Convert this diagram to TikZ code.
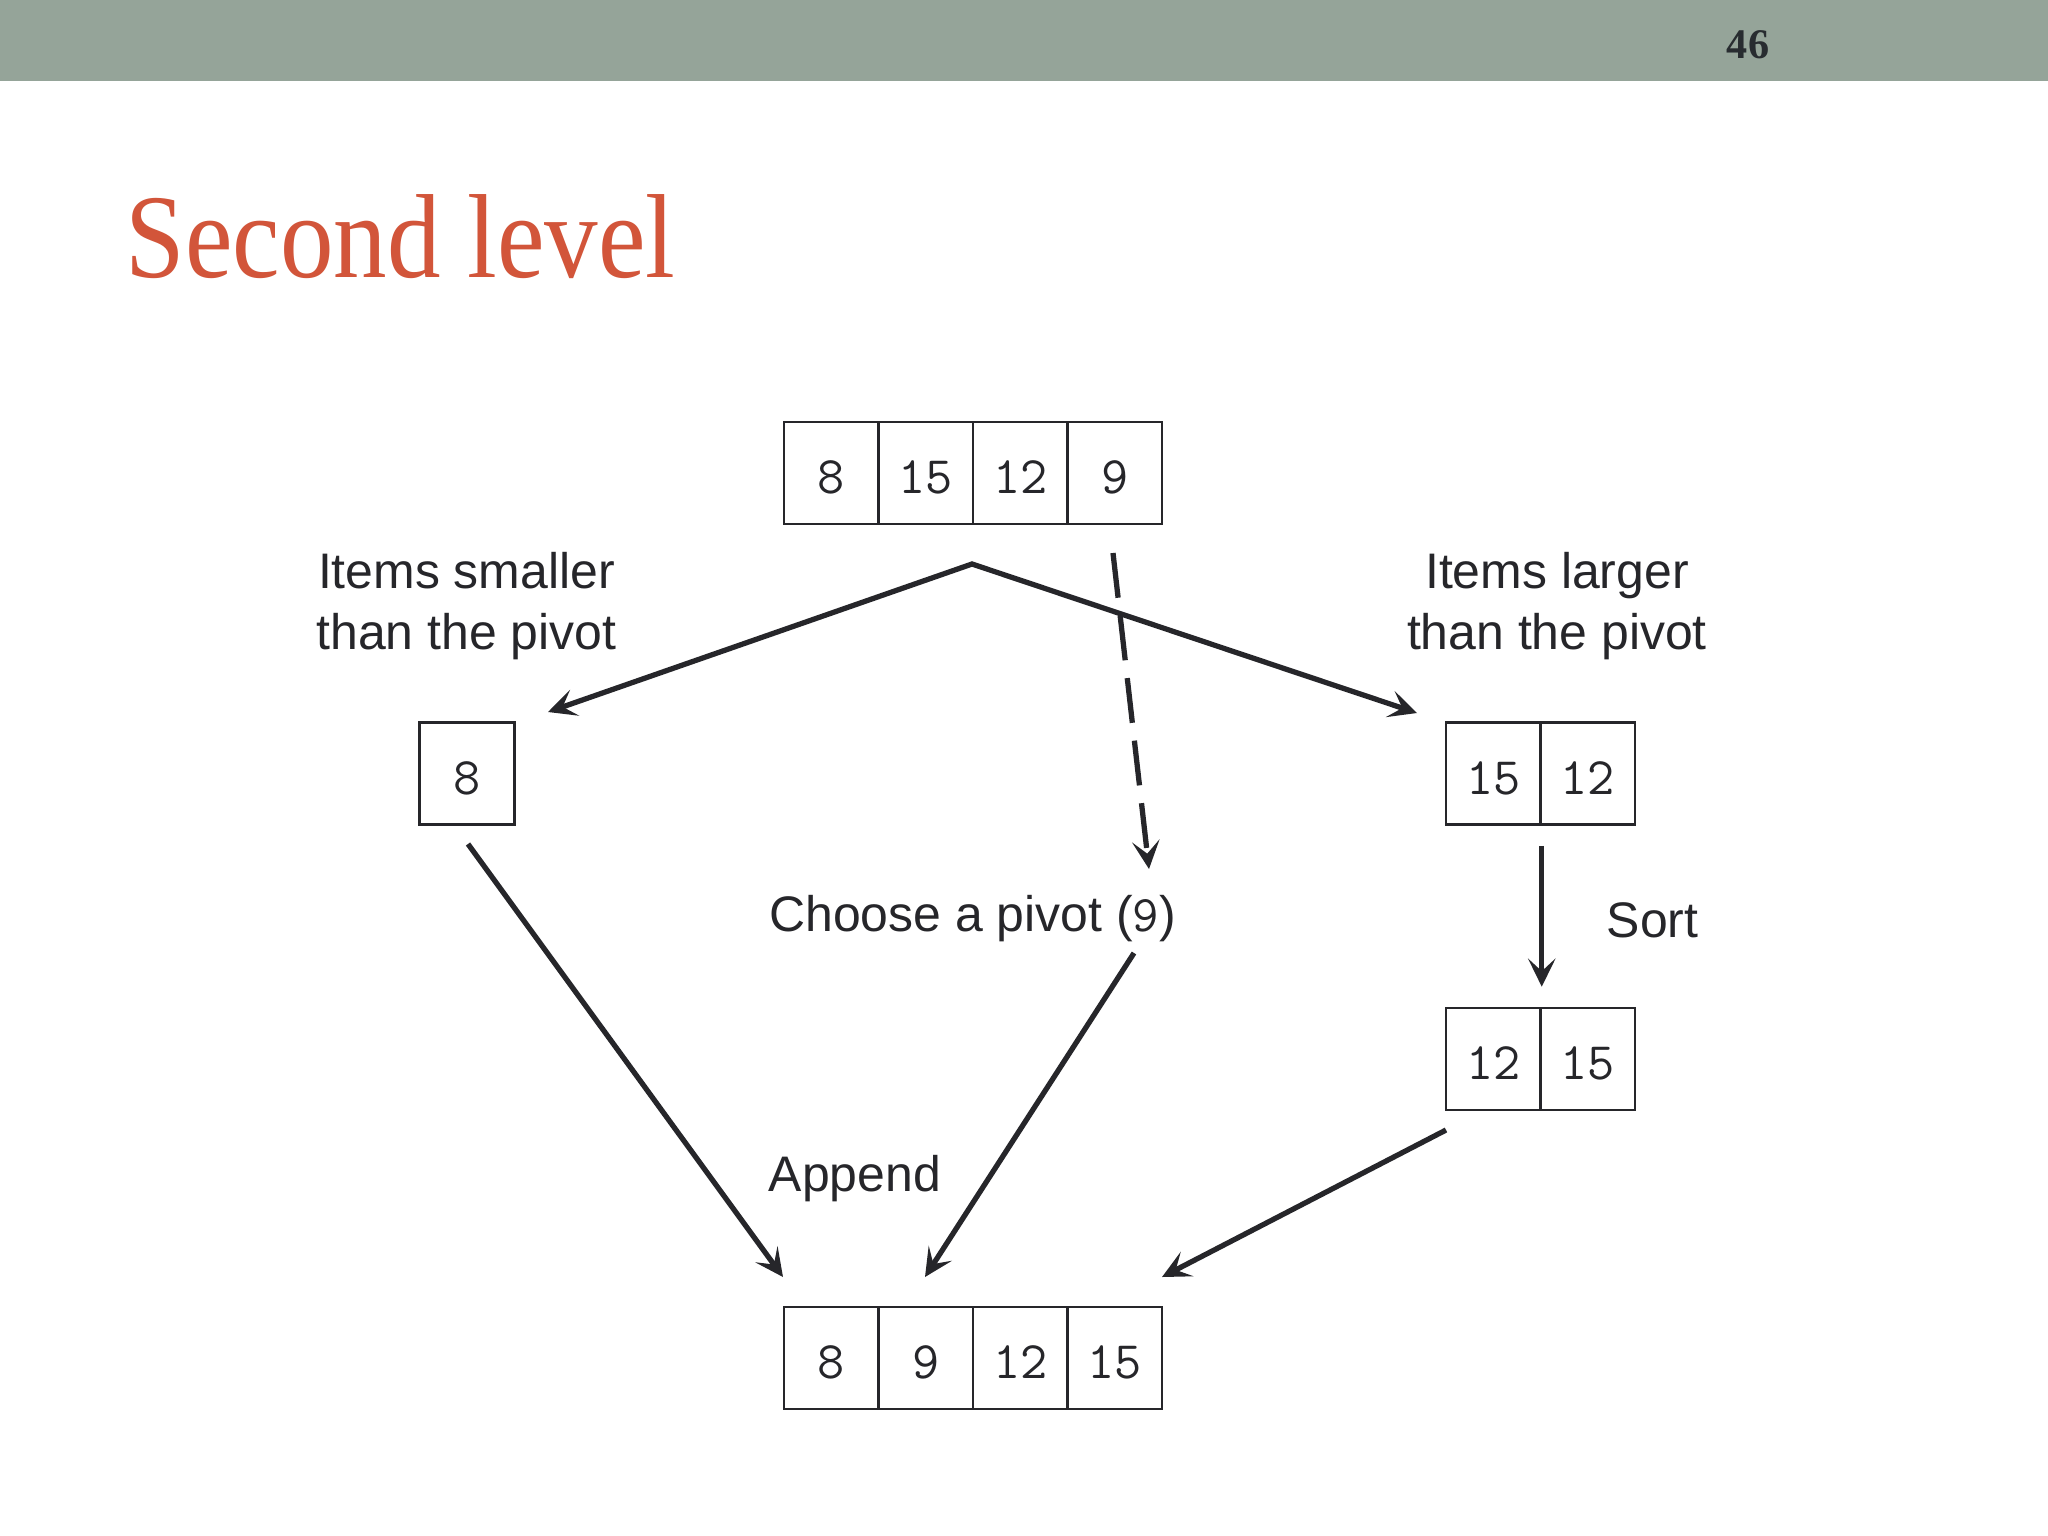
\documentclass[tikz,border=0pt]{standalone}
\usepackage{fontspec}
\setmainfont{Liberation Sans}
\newfontfamily\titlefont{Liberation Serif}
\usetikzlibrary{arrows.meta}
\definecolor{barcol}{RGB}{149,164,153}
\definecolor{titlecol}{RGB}{210,85,58}
\definecolor{ink}{RGB}{38,38,42}
\definecolor{numcol}{RGB}{40,44,48}
\newcommand{\cellfont}{\ttfamily\fontsize{15}{18}\selectfont\addfontfeatures{LetterSpace=6}}
\begin{document}
\begin{tikzpicture}[x=0.01cm,y=-0.01cm,
  cell/.style={draw=ink, line width=0.7pt, minimum width=0.945cm, minimum height=1.02cm,
    inner sep=0pt, font=\cellfont, text=ink,
    text height=11.9pt, text depth=0pt},
  lbl/.style={font=\fontsize{14.2}{17.35}\selectfont, text=ink, inner sep=0pt, align=center},
  tip/.tip={Stealth[length=8pt,width=7.8pt,inset=3.6pt]},
  conn/.style={draw=ink, line width=1.5pt, -tip, line join=miter},
]
\fill[white] (0,0) rectangle (2048,1536);
\useasboundingbox (0,0) rectangle (2048,1536);
\fill[barcol] (0,0) rectangle (2048,81);
\node[anchor=base, font=\titlefont\bfseries\fontsize{12}{14}\selectfont, text=numcol, inner sep=0pt] (pg) at (1748,58) {46};
\node[anchor=base west, font=\titlefont\fontsize{34}{40}\selectfont, text=titlecol, inner sep=0pt] (title) at (125,277) {\scalebox{0.895}[1]{Second level}};

% top array
\node[cell] (a1) at (831.25,473) {8};
\node[cell] (a2) at (925.75,473) {15};
\node[cell] (a3) at (1020.25,473) {12};
\node[cell] (a4) at (1114.75,473) {9};

% smaller
\node[cell] (b1) at (467,773.5) {8};
% larger
\node[cell] (r1) at (1493.25,773.5) {15};
\node[cell] (r2) at (1587.75,773.5) {12};
% sorted
\node[cell] (s1) at (1493.25,1059) {12};
\node[cell] (s2) at (1587.75,1059) {15};
% result
\node[cell] (c1) at (831.25,1358) {8};
\node[cell] (c2) at (925.75,1358) {9};
\node[cell] (c3) at (1020.25,1358) {12};
\node[cell] (c4) at (1114.75,1358) {15};

% labels
\node[lbl] (lsmall) at (466.5,606) {Items smaller\\than the pivot};
\node[lbl] (llarge) at (1557,606) {Items larger\\than the pivot};
\node[lbl, anchor=base] (lpivot) at (972.5,931) {Choose a pivot ({\ttfamily\fontsize{14.6}{17.35}\selectfont 9})};
\node[lbl, anchor=base] (lsort) at (1652.5,937) {Sort};
\node[lbl, anchor=base] (lappend) at (855,1191) {Append};

% coordinates
\coordinate (apex) at (972,564);
\coordinate (tipL) at (548,712);
\coordinate (tipR) at (1417,713);
\coordinate (dStart) at (1113,553);
\coordinate (dTip) at (1149,869);
\coordinate (bStart) at (468,844);
\coordinate (bTip) at (783,1277);
\coordinate (pStart) at (1134,953);
\coordinate (pTip) at (925,1277);
\coordinate (sStart) at (1446,1130);
\coordinate (sTip) at (1162,1277);

% connectors
\draw[conn, tip-tip] (tipL) -- (apex) -- (tipR);
\draw[conn, dash pattern=on 12.8pt off 5.1pt] (dStart) -- (dTip);
\draw[conn, shorten <=5.7pt, shorten >=5.7pt] (r1.south east) -- (s1.north east);
\draw[conn] (bStart) -- (bTip);
\draw[conn] (pStart) -- (pTip);
\draw[conn] (sStart) -- (sTip);
\end{tikzpicture}
\end{document}
